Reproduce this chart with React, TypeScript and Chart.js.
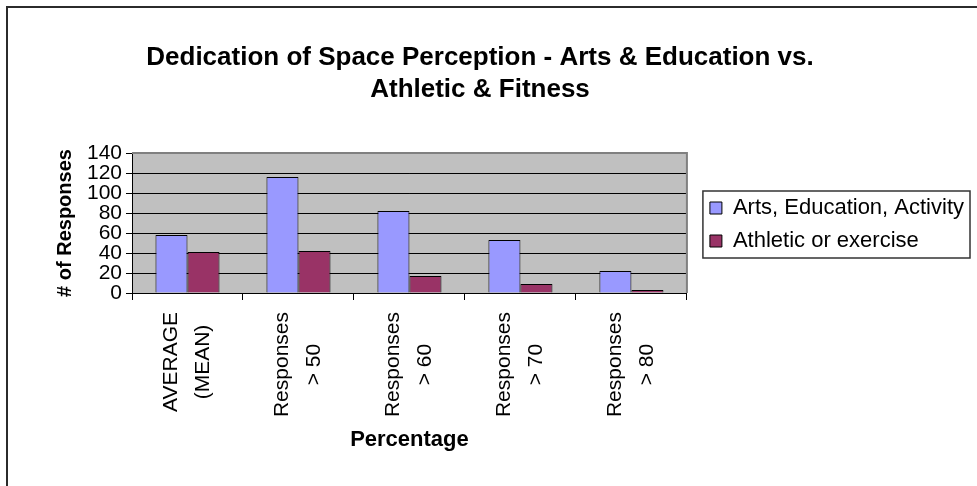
import React, { useEffect, useRef } from 'react';
import { Chart, registerables } from 'chart.js';

Chart.register(...registerables);

const titleLines = ['Dedication of Space Perception - Arts & Education vs.', 'Athletic & Fitness'];
const categories = [
  ['AVERAGE', '(MEAN)'],
  ['Responses', '> 50'],
  ['Responses', '> 60'],
  ['Responses', '> 70'],
  ['Responses', '> 80'],
];
const seriesNames = ['Arts, Education, Activity', 'Athletic or exercise'];
const artsValues = [58, 116, 82, 53, 22];
const athleticValues = [41, 42, 17, 9, 3];
const yMin = 0;
const yMax = 140;
const yStep = 20;
const xTitle = 'Percentage';
const yTitle = '# of Responses';

const FONT = "'Liberation Sans', Arial, sans-serif";

const plotFrame = {
  id: 'plotFrame',
  beforeDraw(chart: any) {
    const { ctx, chartArea: a } = chart;
    ctx.save();
    ctx.fillStyle = '#C0C0C0';
    ctx.fillRect(a.left, a.top, a.right - a.left, a.bottom - a.top);
    ctx.restore();
  },
  beforeDatasetsDraw(chart: any) {
    const { ctx, chartArea: a } = chart;
    ctx.save();
    ctx.strokeStyle = '#808080';
    ctx.lineWidth = 2;
    ctx.beginPath();
    ctx.moveTo(a.left, a.top);
    ctx.lineTo(a.right, a.top);
    ctx.lineTo(a.right, a.bottom);
    ctx.stroke();
    ctx.restore();
  },
};

const xLabels = {
  id: 'xLabels',
  afterDraw(chart: any) {
    const { ctx } = chart;
    const xs = chart.scales.x;
    const labels = chart.data.labels as string[][];
    ctx.save();
    ctx.font = `21px ${FONT}`;
    ctx.fillStyle = '#000';
    ctx.textAlign = 'center';
    ctx.textBaseline = 'middle';
    labels.forEach((lines, i) => {
      const x = xs.getPixelForValue(i);
      const maxW = Math.max(...lines.map((l) => ctx.measureText(l).width));
      const cy = xs.top + 19 + maxW / 2;
      ctx.save();
      ctx.translate(x, cy);
      ctx.rotate(-Math.PI / 2);
      lines.forEach((line, j) => {
        ctx.fillText(line, 0, (j - (lines.length - 1) / 2) * 32);
      });
      ctx.restore();
    });
    ctx.restore();
  },
};

const legendFrame = {
  id: 'legendFrame',
  afterLayout(chart: any) {
    const lg = chart.legend;
    if (!lg) return;
    const a = chart.chartArea;
    lg.top = a.top;
    lg.bottom = a.bottom + 3;
    lg.height = lg.bottom - lg.top;
  },
  afterDraw(chart: any) {
    const lg = chart.legend;
    if (!lg || !lg.legendHitBoxes || !lg.legendHitBoxes.length) return;
    const hb = lg.legendHitBoxes;
    const left = Math.min(...hb.map((h: any) => h.left)) - 7;
    const right = Math.max(...hb.map((h: any) => h.left + h.width)) + 6;
    const top = hb[0].top - 6;
    const last = hb[hb.length - 1];
    const bottom = last.top + last.height + 6;
    const { ctx } = chart;
    ctx.save();
    ctx.strokeStyle = '#333';
    ctx.lineWidth = 1.5;
    ctx.strokeRect(left, top, right - left, bottom - top);
    ctx.restore();
  },
};

export default function App() {
  const ref = useRef<HTMLCanvasElement | null>(null);

  useEffect(() => {
    if (!ref.current) return;
    const chart = new Chart(ref.current, {
      type: 'bar',
      data: {
        labels: categories as any,
        datasets: [
          {
            label: seriesNames[0],
            data: artsValues,
            backgroundColor: '#9999FF',
            borderColor: '#000',
            borderWidth: 1,
            yAxisID: 'y',
          },
          {
            label: seriesNames[1],
            data: athleticValues,
            backgroundColor: '#993366',
            borderColor: '#000',
            borderWidth: 1,
            yAxisID: 'y',
          },
        ],
      },
      options: {
        animation: false,
        responsive: false,
        maintainAspectRatio: false,
        devicePixelRatio: 1,
        layout: { padding: { left: -14, right: 3, top: 0, bottom: 0 } },
        datasets: {
          bar: { categoryPercentage: 0.577, barPercentage: 1 },
        },
        plugins: {
          title: {
            display: true,
            text: titleLines,
            color: '#000',
            font: { family: FONT, size: 26, weight: 'bold', lineHeight: '32px' } as any,
            padding: { top: 42, bottom: 47 },
          },
          legend: {
            display: true,
            position: 'right',
            align: 'center',
            maxWidth: 500,
            labels: {
              color: '#000',
              font: { family: FONT, size: 22 },
              boxWidth: 12,
              boxHeight: 12,
              padding: 11,
            },
          },
          tooltip: { enabled: false },
        },
        scales: {
          x: {
            offset: true,
            grid: {
              offset: true,
              drawOnChartArea: false,
              drawTicks: true,
              tickLength: 7,
              color: '#000',
              tickColor: '#000',
            },
            border: { color: '#000', width: 1 },
            ticks: { display: false },
            title: {
              display: true,
              text: xTitle,
              color: '#000',
              font: { family: FONT, size: 22, weight: 'bold' },
              padding: { top: 0, bottom: 33 },
            },
            afterFit: (s: any) => {
              s.height = 193;
            },
          },
          y: {
            min: yMin,
            max: yMax,
            ticks: {
              stepSize: yStep,
              autoSkip: false,
              color: '#000',
              font: { family: FONT, size: 21 },
              padding: 4,
            },
            grid: { color: '#000', tickColor: '#000', tickLength: 6, lineWidth: 1 },
            border: { color: '#000', width: 1 },
            title: {
              display: true,
              text: yTitle,
              color: '#000',
              font: { family: FONT, size: 20, weight: 'bold' },
              padding: { top: 67, bottom: 0 },
            },
            afterFit: (s: any) => {
              s.width = 146;
            },
          },
          y2: {
            position: 'right',
            display: true,
            grid: { display: false, drawTicks: false },
            border: { display: false },
            ticks: { display: false },
            afterFit: (s: any) => {
              s.width = 12;
            },
          },
        },
      } as any,
      plugins: [plotFrame, xLabels, legendFrame],
    });
    return () => chart.destroy();
  }, []);

  return (
    <>
      <div
        style={{
          position: 'fixed',
          left: 6,
          top: 6,
          width: 2000,
          height: 2000,
          border: '2px solid #2b2b2b',
          boxSizing: 'border-box',
        }}
      />
      <canvas
        ref={ref}
        width={977}
        height={486}
        style={{ position: 'fixed', left: 0, top: 0, width: 977, height: 486, display: 'block' }}
      />
    </>
  );
}
